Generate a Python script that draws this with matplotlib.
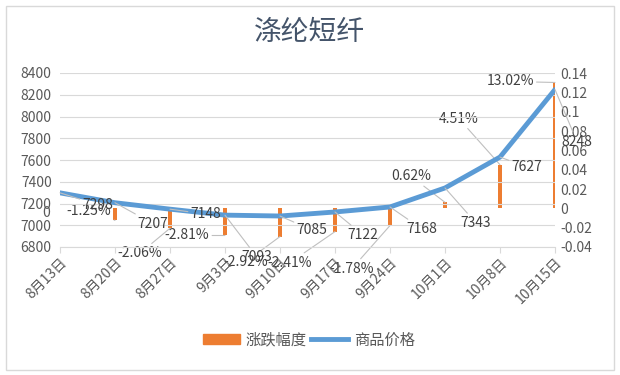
import matplotlib
matplotlib.use("Agg")
import matplotlib.pyplot as plt
import numpy as np
from matplotlib.patches import Patch
from matplotlib.lines import Line2D

plt.rcParams['font.family'] = ['Noto Sans CJK SC', 'DejaVu Sans']

# data
dates = ['8月13日', '8月20日', '8月27日', '9月3日', '9月10日',
         '9月17日', '9月24日', '10月1日', '10月8日', '10月15日']
price = [7298, 7207, 7148, 7093, 7085, 7122, 7168, 7343, 7627, 8248]
# change (%) for 8/20 .. 10/15, none for 8/13
change = [None, -0.0125, -0.0206, -0.0281, -0.0292, -0.0241, -0.0178, 0.0062, 0.0451, 0.1302]
change_labels = [None, '-1.25%', '-2.06%', '-2.81%', '-2.92%', '-2.41%',
                 '-1.78%', '0.62%', '4.51%', '13.02%']

# label offsets (pixels) relative to the data point
price_off = [(38, -12), (38, -21), (36, -5), (32, -42), (32, -14),
             (28, -23), (32, -22), (31, -35), (27, -10), (22, -52)]
change_off = [None, (-26, 9), (-30, -25), (-38, 0), (-34, -25), (-45, -31),
              (-38, -43), (-34, 26), (-41, 46), (-45, 1)]

text_c = '#404040'
tick_c = '#595959'
grid_c = '#d9d9d9'
lead_c = '#bfbfbf'
blue = '#5b9bd5'
orange = '#ed7d31'

fig = plt.figure(figsize=(6.2, 3.75), dpi=100)
fig.patch.set_facecolor('white')
# chart border
fig.add_artist(plt.Rectangle((6 / 620, 5 / 375), 608 / 620, 364 / 375,
                             transform=fig.transFigure, fill=False,
                             edgecolor='#d9d9d9', lw=1))

ax = fig.add_axes([60 / 620, 128 / 375, 495 / 620, 174 / 375])
ax2 = ax.twinx()

x = np.arange(len(dates))

# bars on secondary axis
bx = [i for i, v in enumerate(change) if v is not None]
bv = [v for v in change if v is not None]
ax2.bar(bx, bv, width=0.075, color=orange, zorder=2)
ax2.set_ylim(-0.04, 0.14)
ax2.set_yticks(np.arange(-0.04, 0.141, 0.02))
ax2.set_yticklabels(['-0.04', '-0.02', '0', '0.02', '0.04', '0.06',
                     '0.08', '0.1', '0.12', '0.14'])

# price line on primary axis, drawn on top
ax.set_zorder(ax2.get_zorder() + 1)
ax.patch.set_visible(False)
ax.plot(x, price, color=blue, lw=3.5, solid_capstyle='round', zorder=3)
ax.set_ylim(6800, 8400)
ax.set_yticks(range(6800, 8401, 200))
ax.set_xlim(0, len(dates) - 1)
ax.set_xticks(x)
ax.set_xticklabels(dates, rotation=45, ha='right', rotation_mode='anchor')
ax.grid(axis='y', color=grid_c, lw=0.8)
ax.set_axisbelow(True)

for a in (ax, ax2):
    for s in a.spines.values():
        s.set_visible(False)
    a.tick_params(axis='y', length=0, labelsize=10, labelcolor=tick_c, pad=4)
ax.spines['bottom'].set_visible(True)
ax.spines['bottom'].set_color(grid_c)
ax.tick_params(axis='x', length=4, color=grid_c, labelsize=10,
               labelcolor=tick_c, pad=2)
ax.tick_params(axis='y', pad=6)

lead = dict(arrowstyle='-', color=lead_c, lw=0.8, shrinkA=0, shrinkB=0)

# price labels
for i, p in enumerate(price):
    ax.annotate(str(p), xy=(i, p), xytext=price_off[i], textcoords='offset pixels',
                ha='center', va='center', fontsize=10, color=text_c,
                arrowprops=lead, zorder=5)

# change labels
for i, v in enumerate(change):
    if v is None:
        continue
    ax2.annotate(change_labels[i], xy=(i, v), xytext=change_off[i],
                 textcoords='offset pixels', ha='center', va='center',
                 fontsize=10, color=text_c, arrowprops=lead, zorder=5)

# stray "0" label at the left axis
ax2.annotate('0', xy=(0, 0), xytext=(-10, -5), textcoords='offset pixels',
             ha='right', va='center', fontsize=10, color=tick_c,
             annotation_clip=False)

fig.text(309 / 620, 1 - 32 / 375, '涤纶短纤', ha='center', va='center',
         fontsize=20, color='#44546a')

handles = [Patch(facecolor=orange, edgecolor=orange),
           Line2D([0], [0], color=blue, lw=3.5)]
fig.legend(handles, ['涨跌幅度', '商品价格'], loc='center',
           bbox_to_anchor=(309 / 620, 1 - 340 / 375), ncol=2, frameon=False,
           fontsize=11, labelcolor=tick_c, handlelength=2.4, handleheight=0.6,
           columnspacing=0.3, handletextpad=0.4)

fig.savefig('out.png', dpi=100)
